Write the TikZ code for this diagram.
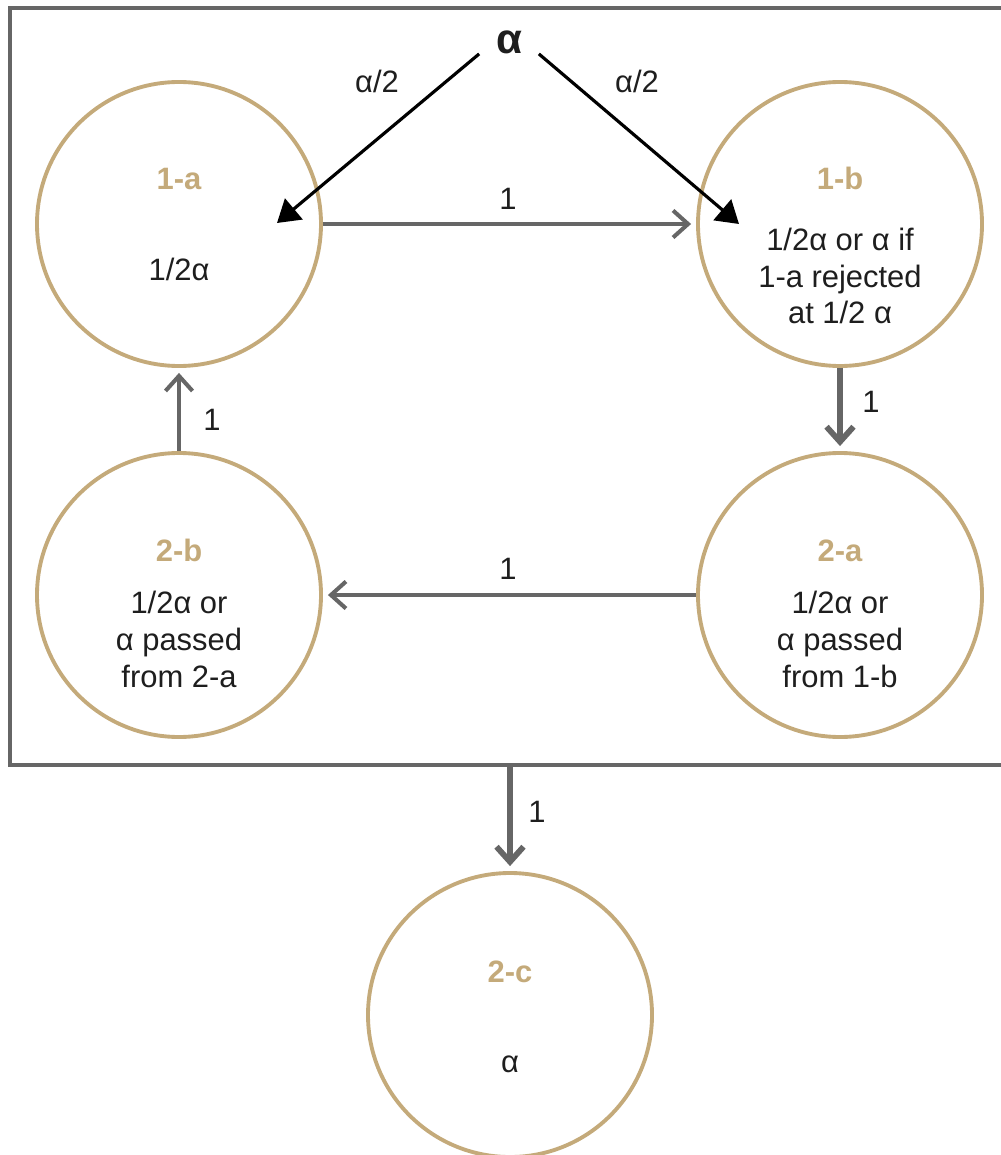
\documentclass[tikz,border=0pt]{standalone}
\usepackage{fontspec}
\setmainfont{Liberation Sans}
\usetikzlibrary{arrows.meta}

\definecolor{sand}{RGB}{196,170,122}
\definecolor{framegray}{RGB}{102,102,102}
\definecolor{ink}{RGB}{30,30,30}

\tikzset{
  state/.style={circle, draw=sand, line width=2.2pt, minimum size=5.68cm, inner sep=0pt},
  statename/.style={text=sand, anchor=base, inner sep=0pt, font=\fontsize{17.6}{21}\selectfont\bfseries},
  statetext/.style={text=ink, anchor=base, align=center, inner sep=0pt, font=\fontsize{17.6}{21}\selectfont},
  weight/.style={text=ink, anchor=base, inner sep=0pt, font=\fontsize{17.6}{21}\selectfont},
  pass/.style={draw=framegray, line width=2.3pt, shorten >=0.1cm, -{Straight Barb[length=0.3cm,width=0.54cm]}},
  thickpass/.style={pass, line width=3.3pt},
  split/.style={draw=black, line width=1.8pt, -{Triangle[length=0.44cm,width=0.54cm]}},
}

\begin{document}
\begin{tikzpicture}[x=0.2mm, y=-0.2mm]
    \useasboundingbox (0,0) rectangle (1000,1155);

    % frame round the first stages
    \node[draw=framegray, line width=2.5pt, minimum width=20cm, minimum height=15.14cm, inner sep=0pt] (box) at (510,386.5) {};

    % states
    \node[state] (n1a) at (179,224) {};
    \node[state] (n1b) at (840,224) {};
    \node[state] (n2b) at (179,595) {};
    \node[state] (n2a) at (840,595) {};
    \node[state] (n2c) at (510,1015) {};

    % (base of a text block = its last line)
    \node[statename] (t1a) at (179,190) {1-a};
    \node[statetext] (b1a) at (179,280) {1/2α};
    \node[statename] (t1b) at (840,190) {1-b};
    \node[statetext] (b1b) at (840,324) {1/2α or α if\\1-a rejected\\at 1/2 α};
    \node[statename] (t2b) at (179,561) {2-b};
    \node[statetext] (b2b) at (179,687) {1/2α or\\α passed\\from 2-a};
    \node[statename] (t2a) at (840,561) {2-a};
    \node[statetext] (b2a) at (840,687) {1/2α or\\α passed\\from 1-b};
    \node[statename] (t2c) at (510,982) {2-c};
    \node[statetext] (b2c) at (510,1072) {α};

    % alpha split in two
    \node[text=ink, inner sep=0pt, minimum width=1.18cm, minimum height=0.44cm, font=\fontsize{24}{28}\selectfont\bfseries] (src) at (509,42) {α};
    \coordinate (in1a) at (277,223);
    \coordinate (in1b) at (739,224);
    \draw[split] (src.south west) -- (in1a);
    \draw[split] (src.south east) -- (in1b);
    \node[weight] (wl) at (377,93) {α/2};
    \node[weight] (wr) at (637,93) {α/2};

    % passing on
    \draw[pass] (n1a) -- (n1b);
    \draw[thickpass] (n1b) -- (n2a);
    \draw[pass] (n2a) -- (n2b);
    \draw[pass] (n2b) -- (n1a);
    \draw[thickpass] (box.south) -- (n2c);
    \node[weight] (w1) at (508,210) {1};
    \node[weight] (w2) at (871,412) {1};
    \node[weight] (w3) at (508,579) {1};
    \node[weight] (w4) at (212,430) {1};
    \node[weight] (w5) at (537,822) {1};
\end{tikzpicture}
\end{document}
